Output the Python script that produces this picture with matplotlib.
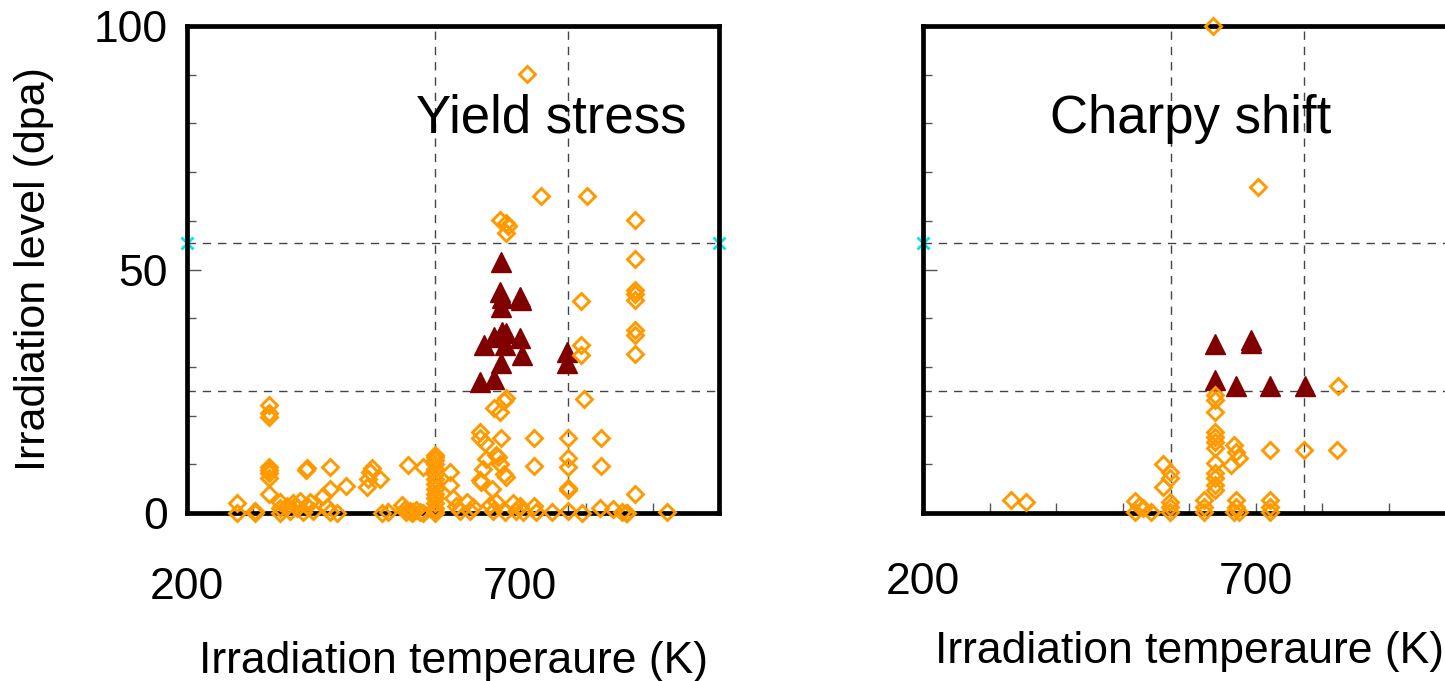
import matplotlib
matplotlib.use('Agg')
import matplotlib.pyplot as plt
from matplotlib.ticker import FixedLocator, MultipleLocator

plt.rcParams['font.family'] = ['Liberation Sans', 'DejaVu Sans']

# ---- data (T in K, level in dpa) ----
# Yield stress panel
ys_open_T = [275, 275, 302, 302,
             323, 323, 323, 323, 323, 323, 323, 323,
             340, 340, 340, 350, 355, 360, 365, 370, 375, 380, 385, 390,
             379, 380, 415, 415, 405, 410, 415, 425, 439,
             470, 472, 475, 478, 490, 493, 502,
             523, 528, 532, 535, 540, 530, 538, 545, 550, 555, 555,
             573, 573, 573, 573, 573, 573, 573, 573, 573, 573, 573, 573, 573, 573, 573,
             595, 595, 600, 605, 610, 621, 625, 630,
             640, 641, 648, 640, 642, 645, 650,
             658, 656, 660, 664, 668, 670, 676, 679, 665, 678,
             662, 671, 676, 680, 671, 680, 682, 680, 672,
             690, 695, 700, 705, 711, 722, 722, 722, 725, 733, 749,
             773, 773, 773, 773, 773, 773,
             794, 797, 793, 793, 793, 801, 823, 823, 821,
             841, 854, 860, 862,
             873, 873, 873, 873, 873, 873, 873, 873, 873, 922]
ys_open_dpa = [2.0, 0.0, 0.5, 0.0,
               22.2, 20.5, 19.8, 9.5, 8.8, 8.2, 7.1, 4.0,
               2.3, 1.0, 0.0, 1.5, 0.5, 2.0, 1.0, 2.5, 0.3, 1.5, 2.3, 0.5,
               8.8, 9.2, 9.5, 5.0, 3.4, 1.2, 0.3, 0.0, 5.5,
               5.4, 7.0, 8.5, 9.3, 7.0, 0.0, 0.2,
               1.6, 0.8, 9.8, 0.5, 0.2, 0.3, 0.1, 0.6, 0.2, 0.0, 9.5,
               12.0, 11.5, 10.9, 10.0, 9.0, 8.0, 7.0, 6.0, 5.0, 4.0, 3.0, 2.0, 1.0, 0.5, 0.0,
               8.5, 5.7, 3.0, 1.5, 0.5, 2.3, 0.5, 1.2,
               16.7, 15.4, 14.4, 6.8, 6.4, 9.0, 11.0,
               5.0, 1.6, 0.5, 12.0, 11.5, 10.0, 8.0, 7.4, 2.3, 0.3,
               21.5, 20.8, 22.9, 23.6, 60.2, 59.5, 59.0, 57.4, 15.5,
               2.0, 0.5, 1.5, 0.3, 90.1, 15.5, 9.7, 1.5, 0.3, 65.1, 0.3,
               15.5, 11.2, 9.4, 5.1, 4.8, 0.5,
               0.0, 23.5, 43.6, 34.6, 32.4, 65.1, 15.5, 9.7, 1.0,
               0.8, 0.3, 0.0, 0.0,
               60.2, 52.1, 45.8, 45.0, 43.7, 37.6, 36.6, 32.6, 4.0, 0.3]
ys_tri_T = [672, 671, 674, 672, 702, 700, 662, 673, 680, 701, 647, 678, 704, 672, 640, 662, 772, 772]
ys_tri_dpa = [51.6, 45.4, 44.1, 42.2, 43.7, 44.4, 36.2, 37.2, 37.0, 35.9, 34.5, 34.5, 32.4, 30.7, 27.0, 27.5, 33.1, 30.7]

# Charpy shift panel
cs_open_T = [332, 355, 519, 525, 519, 542, 530,
             561, 572, 572, 561, 572, 572, 572,
             623, 623, 623,
             639, 639, 639, 639, 639, 639, 639, 639, 639, 639, 639, 639,
             636, 667, 671, 663, 675, 671, 671, 675, 667,
             703, 722, 773, 823, 824, 722, 722, 722]
cs_open_dpa = [2.7, 2.3, 2.5, 1.5, 0.2, 0.2, 1.0,
               10.0, 8.5, 7.2, 5.4, 2.3, 1.3, 0.2,
               2.7, 1.3, 0.2,
               24.2, 23.2, 20.8, 16.7, 15.7, 14.6, 13.3, 10.3, 8.2, 7.2, 5.7, 4.7,
               100.0, 14.0, 12.6, 9.9, 11.3, 2.7, 1.3, 0.2, 0.2,
               67.0, 12.9, 12.9, 12.9, 26.0, 2.7, 1.3, 0.2]
cs_tri_T = [639, 693, 693, 639, 671, 722, 774]
cs_tri_dpa = [34.8, 35.5, 35.0, 27.3, 26.0, 26.0, 26.0]

# reference lines
t_lines = [573, 773]
dpa_upper = 55.4
dpa_lower = 25.0
x_range = [200, 1000]
title_T = [747, 603]
title_dpa = 81

open_col = '#FF9900'
tri_col = '#800000'

fig = plt.figure(figsize=(14.45, 6.81), dpi=100)
ax1 = fig.add_axes([0.1294, 0.2467, 0.3682, 0.7151])
ax2 = fig.add_axes([0.6388, 0.2467, 0.3682, 0.7151])

panels = [(ax1, 'Yield stress', ys_open_T, ys_open_dpa, ys_tri_T, ys_tri_dpa, title_T[0]),
          (ax2, 'Charpy shift', cs_open_T, cs_open_dpa, cs_tri_T, cs_tri_dpa, title_T[1])]

for ax, title, oT, od, tT, td, tx in panels:
    for t in t_lines:
        ax.axvline(t, color='#444444', lw=1, ls=(0, (6, 5)), zorder=1)
    ax.axhline(dpa_lower, color='#444444', lw=1, ls=(0, (6, 5)), zorder=1)
    ax.plot(x_range, [dpa_upper, dpa_upper], color='#444444', lw=1, ls=(0, (6, 5)),
            marker='x', mec='#00E5EE', ms=8, mew=2, clip_on=False, zorder=1)
    ax.plot(tT, td, ls='none', marker='^', ms=14, color=tri_col, mec=tri_col, zorder=3)
    ax.plot(oT, od, ls='none', marker='D', ms=8.6, mfc='none', mec=open_col, mew=2.1,
            clip_on=False, zorder=4)
    ax.text(tx, title_dpa, title, ha='center', va='center', fontsize=38, zorder=2)

    ax.set_xlim(x_range)
    ax.set_ylim(0, 100)
    ax.xaxis.set_major_locator(FixedLocator([200, 700]))
    ax.xaxis.set_minor_locator(MultipleLocator(100))
    ax.yaxis.set_major_locator(FixedLocator([0, 50, 100]))
    ax.yaxis.set_minor_locator(MultipleLocator(10))
    ax.tick_params(axis='x', which='both', direction='in', length=7, width=1,
                   color='#555555', labelsize=32, pad=39)
    ax.tick_params(axis='y', which='major', direction='in', length=10, width=1,
                   color='#555555', labelsize=32, pad=14)
    ax.tick_params(axis='y', which='minor', direction='in', length=6.5, width=1,
                   color='#555555')
    for s in ax.spines.values():
        s.set_linewidth(3.4)
        s.set_color('black')
    ax.set_xlabel('Irradiation temperaure (K)', fontsize=32)

ax1.xaxis.set_label_coords(0.5, -0.262)
ax2.xaxis.set_label_coords(0.5, -0.243)
ax2.tick_params(axis='y', labelleft=False)
ax2.tick_params(axis='x', pad=35)
ax1.set_ylabel('Irradiation level (dpa)', fontsize=31)
ax1.yaxis.set_label_coords(-0.25, 0.5)

fig.savefig('out.png', dpi=100)
